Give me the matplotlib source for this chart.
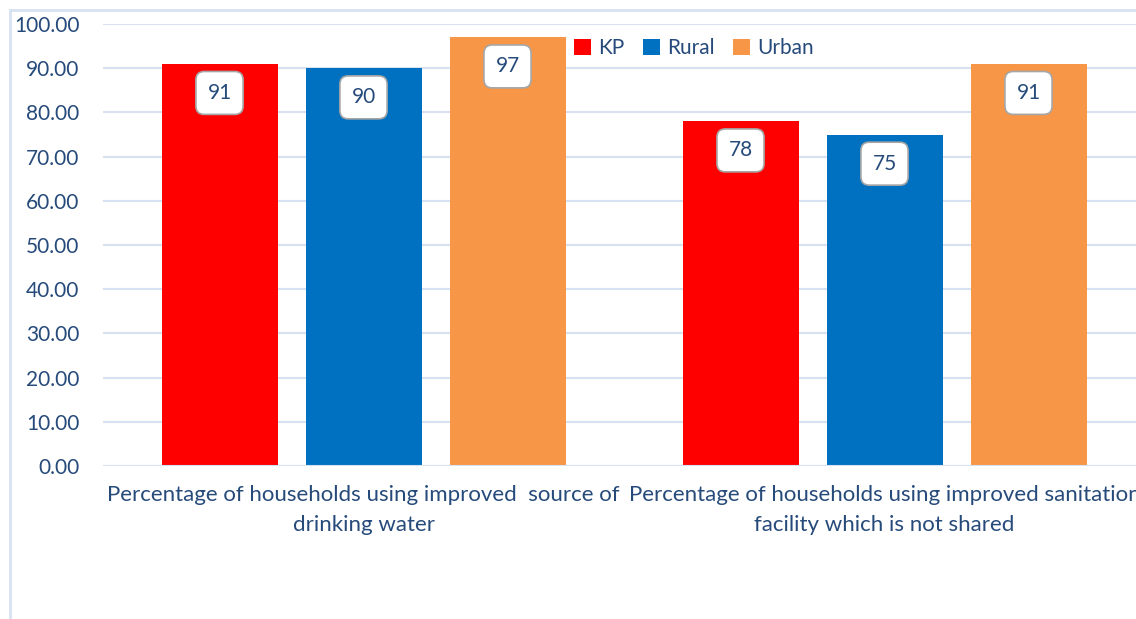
import numpy as np
import matplotlib.pyplot as plt
from matplotlib.patches import Rectangle

categories = ["Percentage of households using improved  source of\ndrinking water",
              "Percentage of households using improved sanitation\nfacility which is not shared"]
series = ["KP", "Rural", "Urban"]
kp = [91, 78]
rural = [90, 75]
urban = [97, 91]

colors = ["#FF0000", "#0070C0", "#F79646"]
txt = "#264A7A"
grid = "#D6E1F1"

plt.rcParams['font.family'] = ['Lato', 'DejaVu Sans']

fig = plt.figure(figsize=(11.36, 6.19), dpi=100)
ax = fig.add_axes([103 / 1136, 1 - 466 / 619, 1042 / 1136, 442 / 619])

# outer chart border, cut off at right and bottom
fig.patches.append(Rectangle((10 / 1136, -0.1), 1.2, 1 - 10 / 619 + 0.1,
                             transform=fig.transFigure, fill=False,
                             edgecolor=grid, linewidth=2))

x = np.arange(len(categories))
width = 116 / 521
step = 144 / 521
for i, (name, vals) in enumerate(zip(series, [kp, rural, urban])):
    pos = x + (i - 1) * step
    ax.bar(pos, vals, width, color=colors[i], label=name, zorder=3)
    for px, v in zip(pos, vals):
        ax.annotate(str(v), xy=(px, v), xytext=(0, -21), textcoords='offset points',
                    ha='center', va='center', fontsize=15, color=txt, zorder=5,
                    bbox=dict(boxstyle='round,pad=0.55,rounding_size=0.4',
                              fc='white', ec='#A6A6A6', lw=1.2))

ax.set_xlim(-0.5, 1.5)
ax.set_ylim(0, 100)
ax.set_yticks(np.arange(0, 101, 10))
ax.set_yticklabels([f"{v:.2f}" for v in range(0, 101, 10)])
ax.set_xticks(x)
ax.set_xticklabels(categories, fontsize=16, color=txt, linespacing=1.6)
ax.tick_params(axis='y', length=0, pad=17, labelsize=15, labelcolor=txt)
ax.tick_params(axis='x', length=0, pad=14)
ax.grid(axis='y', color=grid, linewidth=1.5, zorder=0)
for s in ax.spines.values():
    s.set_visible(False)
ax.axhline(0, color=grid, linewidth=1.5, zorder=4)

ax.legend(loc='center', bbox_to_anchor=(0.567, 0.945), ncol=3, frameon=False,
          fontsize=15, labelcolor=txt, handlelength=0.8, handleheight=0.8,
          handletextpad=0.35, columnspacing=0.9)

fig.savefig("out.png", dpi=100)
